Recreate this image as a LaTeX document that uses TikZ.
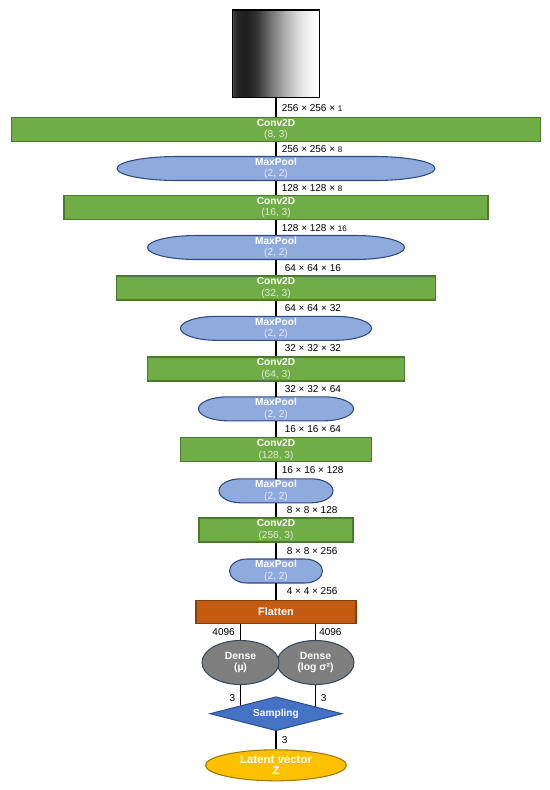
\documentclass[tikz,border=0pt]{standalone}
\usepackage{fontspec}
\setmainfont{Liberation Sans}
\usetikzlibrary{shapes.geometric,calc}
\definecolor{convfill}{HTML}{70AD47}
\definecolor{convdraw}{HTML}{4A7A2E}
\definecolor{mpfill}{HTML}{8FAADC}
\definecolor{mpdraw}{HTML}{2F4A80}
\definecolor{flfill}{HTML}{C55A11}
\definecolor{fldraw}{HTML}{843C0C}
\definecolor{dnfill}{HTML}{7F7F7F}
\definecolor{dndraw}{HTML}{3A4A5A}
\definecolor{smfill}{HTML}{4472C4}
\definecolor{smdraw}{HTML}{2F528F}
\definecolor{ltfill}{HTML}{FFC000}
\definecolor{ltdraw}{HTML}{9C7A00}
\pgfdeclarehorizontalshading{imggrad}{100bp}{color(0bp)=(black!72); color(25bp)=(black!72); color(28bp)=(black!86); color(33bp)=(black!88); color(39bp)=(black!80); color(46bp)=(black!58); color(55bp)=(black!32); color(63bp)=(black!13); color(70bp)=(black!3); color(75bp)=(white); color(100bp)=(white)}
\pgfdeclarelayer{background}
\pgfsetlayers{background,main}
\tikzset{
  conn/.style={line width=1.2pt, draw=black},
  dimlab/.style={font=\fontsize{7.5}{9}\selectfont, inner sep=0pt, text=black},
  dimr/.style={dimlab, anchor=west, xshift=3.75pt},
  diml/.style={dimlab, anchor=east, xshift=-3.75pt},
  convbox/.style={draw=convdraw, fill=convfill, line width=0.8pt, minimum height=24*0.75pt, inner sep=0pt, text=white, align=center, font=\fontsize{7.6}{8.8}\selectfont},
  mpshape/.style={draw=mpdraw, fill=mpfill, line width=0.8pt},
  mptext/.style={minimum height=24*0.75pt, inner sep=0pt, text=white, align=center, font=\fontsize{7.6}{8.8}\selectfont},
  flbox/.style={draw=fldraw, fill=flfill, line width=0.8pt, minimum width=160*0.75pt, minimum height=23*0.75pt, inner sep=0pt, text=white, font=\fontsize{8.2}{9}\selectfont\bfseries},
  densenode/.style={ellipse, draw=dndraw, fill=dnfill, line width=0.8pt, minimum width=77*0.75pt, minimum height=44*0.75pt, inner sep=0pt, text=white, align=center, font=\fontsize{7.8}{8.3}\selectfont\bfseries},
  sampnode/.style={diamond, aspect=3.85, draw=smdraw, fill=smfill, line width=0.8pt, minimum width=132*0.75pt, minimum height=34*0.75pt, inner sep=0pt, text=white, font=\fontsize{7.6}{9}\selectfont\bfseries},
  latnode/.style={ellipse, draw=ltdraw, fill=ltfill, line width=0.8pt, minimum width=141*0.75pt, minimum height=31*0.75pt, inner sep=0pt, text=white, align=center, font=\fontsize{8.6}{8.1}\selectfont\bfseries},
  imgnode/.style={draw=black, line width=1.1pt, shading=imggrad, minimum width=87.5*0.75pt, minimum height=87.5*0.75pt, inner sep=0pt}
}
\newcommand\convsub[1]{{\color{white!78!convfill}#1}}
\newcommand\mpsub[1]{{\color{white!75!mpfill}#1}}
\newcommand\smallnum[1]{{\fontsize{6}{7}\selectfont #1}}
% MaxPool: name, center y (px), width (px), text
\newcommand\mpool[4]{%
  \pgfmathsetmacro\mphw{#3/2}%
  \pgfmathsetmacro\mprx{0.19*#3}%
  \draw[mpshape] ({276-\mphw+\mprx},{#2-12}) -- ({276+\mphw-\mprx},{#2-12})
     arc[start angle=90, end angle=-90, x radius=\mprx*0.75pt, y radius=9pt]
     -- ({276-\mphw+\mprx},{#2+12})
     arc[start angle=270, end angle=90, x radius=\mprx*0.75pt, y radius=9pt] -- cycle;
  \node[mptext, minimum width=#3*0.75pt] (#1) at (276,#2) {#4};
}
\begin{document}
\begin{tikzpicture}[x=0.75pt, y=-0.75pt]
\useasboundingbox (0,0) rectangle (550,790);

\node[imgnode] (img) at (276,53.75) {};

\node[convbox, minimum width=529*0.75pt] (c1) at (276,129.5) {\textbf{Conv2D}\\\convsub{(8, 3)}};
\mpool{m1}{168.5}{318}{\textbf{MaxPool}\\\mpsub{(2, 2)}}
\node[convbox, minimum width=424*0.75pt] (c2) at (276,207.5) {\textbf{Conv2D}\\\convsub{(16, 3)}};
\mpool{m2}{247.5}{257}{\textbf{MaxPool}\\\mpsub{(2, 2)}}
\node[convbox, minimum width=319*0.75pt] (c3) at (276,288) {\textbf{Conv2D}\\\convsub{(32, 3)}};
\mpool{m3}{328.3}{191}{\textbf{MaxPool}\\\mpsub{(2, 2)}}
\node[convbox, minimum width=257*0.75pt] (c4) at (276,369) {\textbf{Conv2D}\\\convsub{(64, 3)}};
\mpool{m4}{408.8}{155}{\textbf{MaxPool}\\\mpsub{(2, 2)}}
\node[convbox, minimum width=191*0.75pt] (c5) at (276,449.8) {\textbf{Conv2D}\\\convsub{(128, 3)}};
\mpool{m5}{490.8}{114}{\textbf{MaxPool}\\\mpsub{(2, 2)}}
\node[convbox, minimum width=154*0.75pt] (c6) at (276,530) {\textbf{Conv2D}\\\convsub{(256, 3)}};
\mpool{m6}{571}{93}{\textbf{MaxPool}\\\mpsub{(2, 2)}}

\node[flbox] (fl) at (276,611.7) {Flatten};
\node[densenode] (dsig) at (315.5,662.5) {Dense\\(log σ²)};
\node[densenode] (dmu) at (240.5,662.5) {Dense\\(µ)};
\node[sampnode] (samp) at (276,713.7) {Sampling};
\node[latnode] (lat) at (276,765.3) {Latent vector\\Z};

\draw[conn] (img.south) -- node[dimr, midway] {256 × 256 × \smallnum{1}} (c1.north);
\draw[conn] (c1.south) -- node[dimr, midway] {256 × 256 × \smallnum{8}} (m1.north);
\draw[conn] (m1.south) -- node[dimr, midway] {128 × 128 × \smallnum{8}} (c2.north);
\draw[conn] (c2.south) -- node[dimr, midway] {128 × 128 × \smallnum{16}} (m2.north);
\draw[conn] (m2.south) -- node[dimr, midway, xshift=2.25pt] {64 × 64 × 16} (c3.north);
\draw[conn] (c3.south) -- node[dimr, midway, xshift=2.25pt] {64 × 64 × 32} (m3.north);
\draw[conn] (m3.south) -- node[dimr, midway, xshift=2.25pt] {32 × 32 × 32} (c4.north);
\draw[conn] (c4.south) -- node[dimr, midway, xshift=2.25pt] {32 × 32 × 64} (m4.north);
\draw[conn] (m4.south) -- node[dimr, midway, xshift=2.25pt] {16 × 16 × 64} (c5.north);
\draw[conn] (c5.south) -- node[dimr, midway] {16 × 16 × 128} (m5.north);
\draw[conn] (m5.south) -- node[dimr, midway, xshift=3.75pt] {8 × 8 × 128} (c6.north);
\draw[conn] (c6.south) -- node[dimr, midway, xshift=3.75pt] {8 × 8 × 256} (m6.north);
\draw[conn] (m6.south) -- node[dimr, midway, xshift=3.75pt] {4 × 4 × 256} (fl.north);

\draw[conn] (dmu.north |- fl.south) -- node[diml, midway] {4096} (dmu.north);
\draw[conn] (dsig.north |- fl.south) -- node[dimr, midway, xshift=-1.5pt] {4096} (dsig.north);
\begin{pgfonlayer}{background}
\draw[conn] (dmu.south) -- (dmu.south |- samp.center);
\draw[conn] (dsig.south) -- (dsig.south |- samp.center);
\end{pgfonlayer}
\node[diml] (t1) at ($(dmu.south)!0.45!(dmu.south |- samp.center)$) {3};
\node[dimr] (t2) at ($(dsig.south)!0.45!(dsig.south |- samp.center)$) {3};
\draw[conn] (samp.south) -- node[dimr, midway] {3} (lat.north);
\end{tikzpicture}
\end{document}
